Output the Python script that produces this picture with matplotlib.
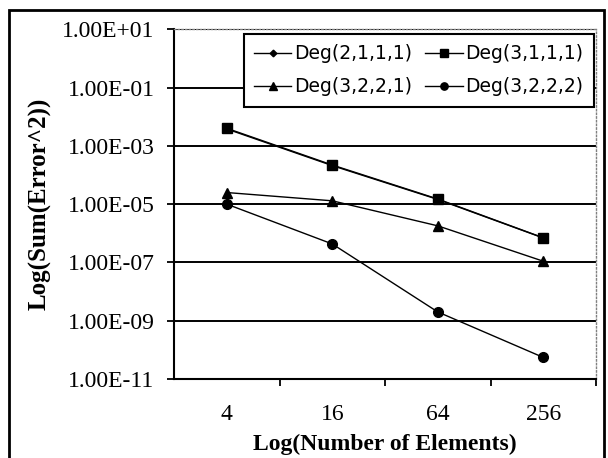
import matplotlib
matplotlib.use('Agg')
import matplotlib.pyplot as plt
import matplotlib.ticker as mticker
from matplotlib.patches import Rectangle

# Data
elements = ['4', '16', '64', '256']
deg_2111 = [3.8e-3, 2.1e-4, 1.45e-5, 6.9e-7]
deg_3111 = [4.0e-3, 2.2e-4, 1.5e-5, 7.0e-7]
deg_3221 = [2.5e-5, 1.3e-5, 1.8e-6, 1.1e-7]
deg_3222 = [1.0e-5, 4.3e-7, 2.0e-9, 5.5e-11]
y_ticks = [1e1, 1e-1, 1e-3, 1e-5, 1e-7, 1e-9, 1e-11]

serif = 'Liberation Serif'

fig = plt.figure(figsize=(6.08, 4.58), dpi=100)
ax = fig.add_axes([0.2862, 0.1725, 0.6941, 0.7636])

# outer frame of the chart
fig.patches.append(Rectangle((0.0148, -0.02), 0.979, 0.998, transform=fig.transFigure,
                             fill=False, edgecolor='black', linewidth=2))

x = range(len(elements))
h1, = ax.plot(x, deg_2111, color='black', lw=1, marker='D', ms=4.5, label='Deg(2,1,1,1)')
h2, = ax.plot(x, deg_3111, color='black', lw=1, marker='s', ms=7, label='Deg(3,1,1,1)')
h3, = ax.plot(x, deg_3221, color='black', lw=1, marker='^', ms=7, label='Deg(3,2,2,1)')
h4, = ax.plot(x, deg_3222, color='black', lw=1, marker='o', ms=7, label='Deg(3,2,2,2)')

ax.set_yscale('log')
ax.set_ylim(1e-11, 1e1)
ax.set_xlim(-0.5, 3.5)

ax.yaxis.set_major_locator(mticker.FixedLocator(y_ticks))
ax.yaxis.set_minor_locator(mticker.NullLocator())
ax.yaxis.set_major_formatter(mticker.FuncFormatter(lambda v, p: f'{v:.2E}'))
ax.yaxis.grid(True, color='black', linewidth=1.4)
ax.set_axisbelow(True)

ax.set_xticks(list(x))
ax.set_xticklabels(elements)
ax.set_xticks([0.5, 1.5, 2.5, 3.5], minor=True)
ax.tick_params(axis='x', which='major', length=0, pad=18)
ax.tick_params(axis='x', which='minor', direction='out', length=5, width=1.3)
ax.tick_params(axis='y', which='major', direction='out', length=5, width=1.3, pad=9)

for lab in ax.get_xticklabels() + ax.get_yticklabels():
    lab.set_family(serif)
    lab.set_fontsize(17)

for side in ['top', 'right']:
    ax.spines[side].set_linestyle(':')
    ax.spines[side].set_color('gray')
    ax.spines[side].set_linewidth(1)
for side in ['left', 'bottom']:
    ax.spines[side].set_linewidth(1.5)

ax.set_ylabel('Log(Sum(Error^2))', family=serif, fontweight='bold', fontsize=18)
ax.yaxis.set_label_coords(-0.289, 0.5)
ax.set_xlabel('Log(Number of Elements)', family=serif, fontweight='bold', fontsize=17)
ax.xaxis.set_label_coords(0.5, -0.158)

leg = ax.legend([h1, h3, h2, h4], ['Deg(2,1,1,1)', 'Deg(3,2,2,1)', 'Deg(3,1,1,1)', 'Deg(3,2,2,2)'],
                ncol=2, loc='upper right', bbox_to_anchor=(0.995, 0.987), borderaxespad=0,
                fancybox=False, edgecolor='black', framealpha=1, fontsize=13.5,
                handlelength=2.0, handletextpad=0.15, columnspacing=0.7, markerscale=0.75,
                borderpad=0.55, labelspacing=0.75)
leg.get_frame().set_linewidth(1.5)

fig.savefig('out.png', dpi=100)
